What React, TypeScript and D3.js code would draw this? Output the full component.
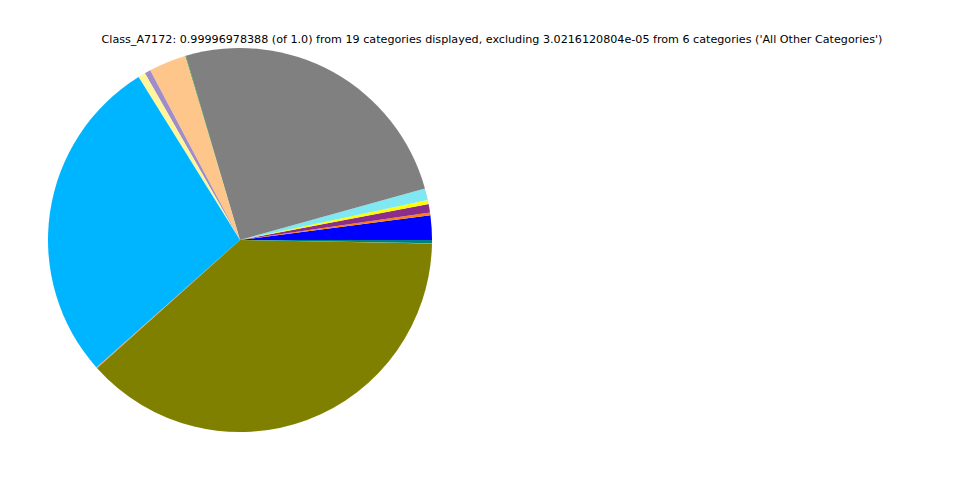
import React from "react";
import * as d3 from "d3";

const categories = [
  "Cat_01", "Cat_02", "Cat_03", "Cat_04", "Cat_05", "Cat_06", "Cat_07",
  "Cat_08", "Cat_09", "Cat_10", "Cat_11", "Cat_12", "Cat_13", "Cat_14",
  "Cat_15", "Cat_16", "Cat_17", "Cat_18", "Cat_19",
];
const values = [
  0.02056, 0.00222, 0.00722, 0.00333, 0.00995, 0.00001, 0.25222, 0.00056,
  0.03139, 0.00001, 0.005, 0.00611, 0.00001, 0.27694, 0.00083, 0.00001,
  0.38083, 0.00001, 0.00277,
];
const colors = [
  "#0000ff", "#ff7f0e", "#8c2d8c", "#ffff00", "#80e8f2", "#d62728", "#808080",
  "#2ca02c", "#ffc68c", "#17becf", "#a08cc8", "#fff59a", "#e377c2", "#00b5ff",
  "#d2a06e", "#9467bd", "#808000", "#bcbd22", "#008080",
];
const title =
  "Class_A7172: 0.99996978388 (of 1.0) from 19 categories displayed, excluding 3.0216120804e-05 from 6 categories ('All Other Categories')";

export default function App() {
  const W = 960, H = 480;
  const cx = 240, cy = 240, r = 192;
  const data = categories.map((c, i) => ({ c, v: values[i], color: colors[i] }));
  // matplotlib-style: start at 3 o'clock, counter-clockwise, no normalization when sum<=1
  let acc = 0;
  const arcs = data.map((d) => {
    const a0 = acc;
    acc += d.v * 2 * Math.PI;
    return { ...d, a0, a1: acc };
  });
  const arcGen = d3.arc<any>().innerRadius(0).outerRadius(r);
  const toD3 = (a: number) => Math.PI / 2 - a;
  return (
    <svg width={W} height={H} style={{ position: "absolute", left: 0, top: 0, background: "#fff" }}>
      <text x={492} y={43} textAnchor="middle" fontFamily="DejaVu Sans" fontSize={11.15} fill="#000">
        {title}
      </text>
      <g transform={`translate(${cx},${cy})`}>
        {arcs.map((d, i) => (
          <path
            key={i}
            d={arcGen({ startAngle: toD3(d.a1), endAngle: toD3(d.a0) }) as string}
            fill={d.color}
          />
        ))}
      </g>
    </svg>
  );
}
